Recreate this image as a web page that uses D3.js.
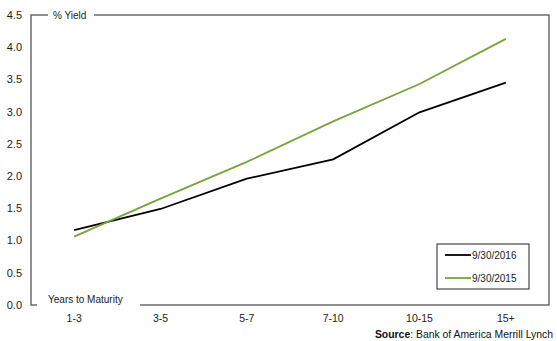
<!DOCTYPE html>
<html><head><meta charset="utf-8">
<script src="https://cdn.jsdelivr.net/npm/d3@7"></script>
<style>body{margin:0;background:#fff}text{font-family:"Liberation Sans",Arial,sans-serif}</style>
</head><body><svg id="c" width="557" height="341"></svg>
<script>
const categories = ["1-3","3-5","5-7","7-10","10-15","15+"];
const yield2016 = [1.16, 1.49, 1.96, 2.26, 2.99, 3.45];
const yield2015 = [1.06, 1.65, 2.22, 2.85, 3.43, 4.13];
const yTicks = [0,0.5,1,1.5,2,2.5,3,3.5,4,4.5];
const seriesNames = ["9/30/2016","9/30/2015"];
const colors = ["#000000","#77a43e"];

const svg = d3.select("#c");
const L=31, R=549, T=15, B=305;
const x = d3.scaleBand().domain(categories).range([L,R]);
const y = d3.scaleLinear().domain([0,4.5]).range([B,T]);

// frame
svg.append("rect").attr("x",L).attr("y",T).attr("width",R-L).attr("height",B-T)
  .attr("fill","none").attr("stroke","#555").attr("stroke-width",1.3);

// y tick labels
svg.append("g").selectAll("text").data(yTicks).join("text")
  .attr("x",22).attr("y",d=>y(d)).attr("dy","0.35em").attr("text-anchor","end")
  .attr("font-size",11).attr("fill","#222").text(d=>d.toFixed(1));

// x labels
svg.append("g").selectAll("text").data(categories).join("text")
  .attr("x",d=>x(d)+x.bandwidth()/2).attr("y",322).attr("text-anchor","middle")
  .attr("font-size",10.5).attr("fill","#222").text(d=>d);

// axis titles with white knockouts
svg.append("rect").attr("x",48).attr("y",T-4).attr("width",46).attr("height",8).attr("fill","#fff");
svg.append("text").attr("x",53).attr("y",T).attr("dy","0.35em").attr("font-size",10).attr("fill","#222").text("% Yield");
svg.append("rect").attr("x",37).attr("y",B-3).attr("width",103).attr("height",6).attr("fill","#fff");
svg.append("text").attr("x",48).attr("y",303).attr("font-size",10).attr("fill","#222").text("Years to Maturity");

// lines
const line = d3.line().x((d,i)=>x(categories[i])+x.bandwidth()/2).y(d=>y(d));
[yield2016, yield2015].forEach((s,i)=>{
  svg.append("path").attr("d",line(s)).attr("fill","none").attr("stroke",colors[i]).attr("stroke-width",1.8);
});

// legend
svg.append("rect").attr("x",437).attr("y",244).attr("width",92).attr("height",45)
  .attr("fill","#fff").attr("stroke","#222").attr("stroke-width",1);
seriesNames.forEach((n,i)=>{
  const yy = 255 + i*23;
  svg.append("line").attr("x1",445).attr("x2",471).attr("y1",yy).attr("y2",yy).attr("stroke",colors[i]).attr("stroke-width",1.8);
  svg.append("text").attr("x",472).attr("y",yy).attr("dy","0.35em").attr("font-size",10).attr("fill","#222").text(n);
});

// source
const src = svg.append("text").attr("x",553).attr("y",338).attr("text-anchor","end").attr("font-size",10.4).attr("fill","#111");
src.append("tspan").attr("font-weight","bold").text("Source");
src.append("tspan").text(": Bank of America Merrill Lynch");
</script></body></html>
